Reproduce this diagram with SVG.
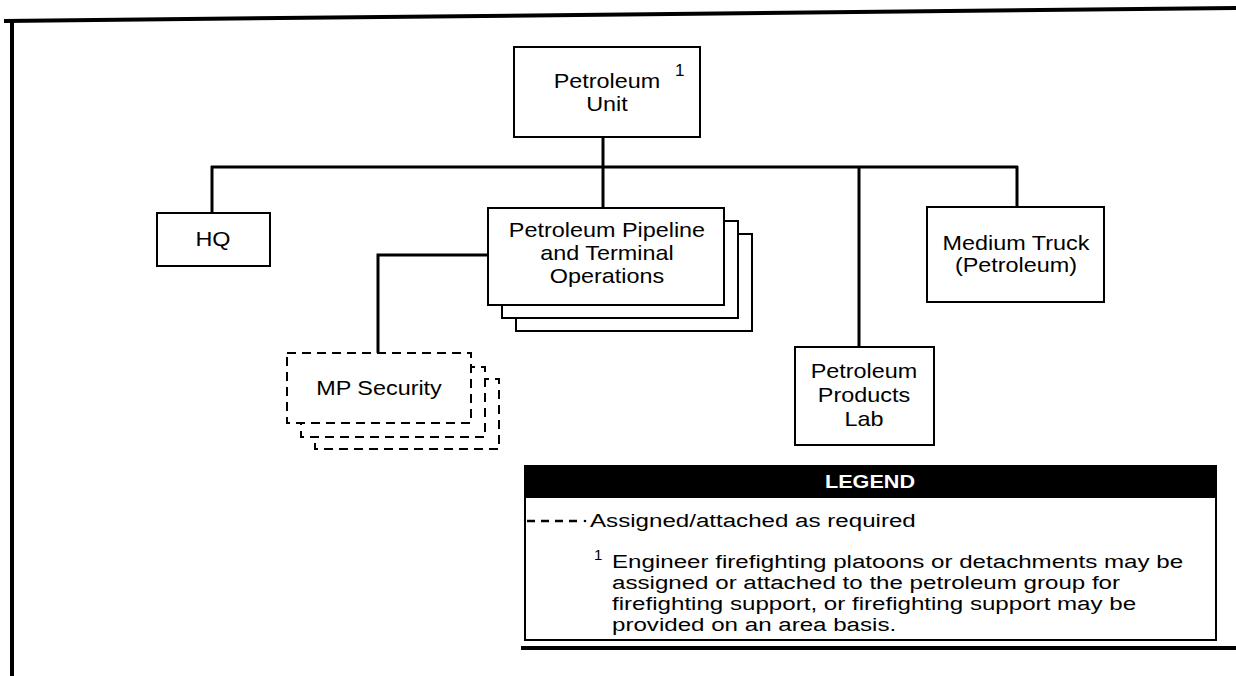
<svg xmlns="http://www.w3.org/2000/svg" width="1236" height="676" viewBox="0 0 1236 676">
<style>
.box{fill:#fff;stroke:#000;stroke-width:2}
.dbox{fill:#fff;stroke:#000;stroke-width:2;stroke-dasharray:9 6}
.conn{fill:none;stroke:#000;stroke-width:3}
.frame{fill:none;stroke:#000;stroke-width:4}
.t{font-family:"Liberation Sans",Arial,Helvetica,sans-serif;font-size:20px;fill:#000;text-anchor:middle}
.lt{font-family:"Liberation Sans",Arial,Helvetica,sans-serif;font-size:19px;fill:#000}
.sup{font-family:"Liberation Sans",Arial,Helvetica,sans-serif;font-size:17px;fill:#000}
.lg{font-family:"Liberation Sans",Arial,Helvetica,sans-serif;font-size:18px;font-weight:bold;fill:#fff;text-anchor:middle}
</style>
<rect x="0" y="0" width="1236" height="676" fill="#fff"/>
<g id="frame">
<line class="frame" x1="4" y1="21" x2="1236" y2="8"/>
<line class="frame" x1="12" y1="19" x2="12" y2="676" stroke-width="5"/>
<line class="frame" x1="521" y1="648" x2="1236" y2="648"/>
</g>
<g id="connectors">
<line class="conn" x1="603" y1="137" x2="603" y2="208"/>
<line class="conn" x1="211" y1="167" x2="1018" y2="167"/>
<line class="conn" x1="212" y1="166" x2="212" y2="213"/>
<line class="conn" x1="859" y1="166" x2="859" y2="347"/>
<line class="conn" x1="1017" y1="166" x2="1017" y2="207"/>
<polyline class="conn" points="488,255 378,255 378,353"/>
</g>
<g id="petroleum-unit">
<rect class="box" x="514" y="47" width="186" height="90"/>
<text class="t" transform="translate(607,88) scale(1.17,1)"><tspan x="0" y="0">Petroleum</tspan><tspan x="0" y="23">Unit</tspan></text>
<text class="sup" x="675" y="76">1</text>
</g>
<g id="hq">
<rect class="box" x="157" y="213" width="113" height="53"/>
<text class="t" transform="translate(213,246) scale(1.17,1)">HQ</text>
</g>
<g id="pipeline">
<rect class="box" x="516" y="234" width="236" height="97"/>
<rect class="box" x="502" y="221" width="236" height="97"/>
<rect class="box" x="488" y="208" width="236" height="97"/>
<text class="t" transform="translate(607,237) scale(1.17,1)"><tspan x="0" y="0">Petroleum Pipeline</tspan><tspan x="0" y="23">and Terminal</tspan><tspan x="0" y="46">Operations</tspan></text>
</g>
<g id="mp-security">
<rect class="dbox" x="315" y="379" width="184" height="70"/>
<rect class="dbox" x="301" y="367" width="184" height="70"/>
<rect class="dbox" x="287" y="353" width="184" height="70"/>
<text class="t" transform="translate(379,395) scale(1.17,1)">MP Security</text>
</g>
<g id="products-lab">
<rect class="box" x="795" y="347" width="139" height="98"/>
<text class="t" transform="translate(864,378) scale(1.17,1)"><tspan x="0" y="0">Petroleum</tspan><tspan x="0" y="24">Products</tspan><tspan x="0" y="48">Lab</tspan></text>
</g>
<g id="medium-truck">
<rect class="box" x="927" y="207" width="177" height="95"/>
<text class="t" transform="translate(1016,250) scale(1.17,1)"><tspan x="0" y="0">Medium Truck</tspan><tspan x="0" y="22">(Petroleum)</tspan></text>
</g>
<g id="legend">
<rect class="box" x="525" y="466" width="691" height="174"/>
<rect x="525" y="466" width="691" height="32" fill="#000"/>
<text class="lg" transform="translate(870,488) scale(1.2,1)">LEGEND</text>
<line x1="527" y1="521" x2="579" y2="521" stroke="#000" stroke-width="2.5" stroke-dasharray="8 6"/>
<circle cx="585" cy="521" r="1.3" fill="#000"/>
<text class="lt" transform="translate(590,527) scale(1.27,1)">Assigned/attached as required</text>
<text class="sup" x="594" y="560" style="font-size:15px">1</text>
<text class="lt" transform="translate(612,568) scale(1.27,1)"><tspan x="0" y="0">Engineer firefighting platoons or detachments may be</tspan><tspan x="0" y="21">assigned or attached to the petroleum group for</tspan><tspan x="0" y="42">firefighting support, or firefighting support may be</tspan><tspan x="0" y="63">provided on an area basis.</tspan></text>
</g>
</svg>
